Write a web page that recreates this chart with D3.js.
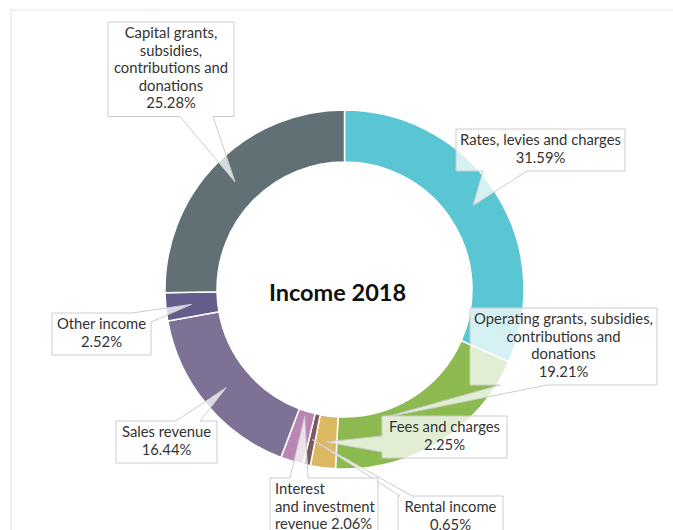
<!DOCTYPE html>
<html>
<head>
<meta charset="utf-8">
<script src="https://cdn.jsdelivr.net/npm/d3@7"></script>
<style>
  html, body { margin: 0; padding: 0; background: #fff; }
  svg { display: block; }
</style>
</head>
<body>
<svg id="chart" width="673" height="530"></svg>
<script>
// ---- data ----
const title = "Income 2018";
const categories = [
  "Rates, levies and charges",
  "Operating grants, subsidies, contributions and donations",
  "Fees and charges",
  "Rental income",
  "Interest and investment revenue",
  "Sales revenue",
  "Other income",
  "Capital grants, subsidies, contributions and donations"
];
const values = [31.59, 19.21, 2.25, 0.65, 2.06, 16.44, 2.52, 25.28];
const colors = ["#5bc6d3", "#8cba51", "#dcb862", "#7b5a5e", "#b986b5", "#7d7296", "#625d8a", "#607075"];
// label text lines (category name split as in the picture); percentage appended
const labelLines = [
  ["Rates, levies and charges"],
  ["Operating grants, subsidies,", "contributions and", "donations"],
  ["Fees and charges"],
  ["Rental income"],
  ["Interest", "and investment", "revenue"],
  ["Sales revenue"],
  ["Other income"],
  ["Capital grants,", "subsidies,", "contributions and", "donations"]
];
const pctOnSameLine = [false, false, false, false, true, false, false, false];

// ---- layout (positions / styles only) ----
const W = 673, H = 530;
const cx = 344.5, cy = 289.5, rOuter = 179.5, rInner = 127.5;
const lineH = 17.5;
// box: x, y, w ; edge for the pointer, base points b1,b2 ; optional anchor override (t within slice, r)
const boxes = [
  {x: 456, y: 129, w: 169, edge: "bottom", b1: 483, b2: 527},
  {x: 470, y: 308, w: 187, edge: "bottom", b1: 500, b2: 547, t: 0.72, r: 134},
  {x: 382, y: 416, w: 125, edge: "left",   b1: 436, b2: 452},
  {x: 398, y: 496, w: 105, edge: "top",    b1: 400, b2: 412},
  {x: 270, y: 478, w: 108, edge: "top",    b1: 290, b2: 308, t: 0.55, r: 133, align: "left"},
  {x: 116, y: 421, w: 101, edge: "top",    b1: 176, b2: 200},
  {x: 52,  y: 313, w: 99,  edge: "topright", b1: 132, b2: 322},
  {x: 108, y: 22,  w: 126, edge: "bottom", b1: 180, b2: 213}
];

const svg = d3.select("#chart");
const FONT = "Lato, 'Open Sans', sans-serif";

// frame
svg.append("rect")
  .attr("x", 11).attr("y", 10).attr("width", 720).attr("height", 600)
  .attr("fill", "none").attr("stroke", "#f1f1f1").attr("stroke-width", 2.5);

const g = svg.append("g").attr("transform", `translate(${cx},${cy})`);

const pie = d3.pie().sort(null).value(d => d).startAngle(0).endAngle(2 * Math.PI);
const arcs = pie(values);
const arc = d3.arc().innerRadius(rInner).outerRadius(rOuter);

g.selectAll("path.slice")
  .data(arcs)
  .enter().append("path")
  .attr("class", "slice")
  .attr("d", arc)
  .attr("fill", (d, i) => colors[i])
  .attr("stroke", "#fff")
  .attr("stroke-width", 1.5)
  .attr("stroke-linejoin", "round");

// title
svg.append("text")
  .attr("x", cx - 7).attr("y", cy + 11)
  .attr("text-anchor", "middle")
  .attr("font-family", FONT)
  .attr("font-weight", "bold")
  .attr("font-size", 23.5)
  .attr("fill", "#111")
  .text(title);

function calloutPath(x, y, w, h, edge, b1, b2, tx, ty) {
  const p = d3.path();
  p.moveTo(x, y);
  if (edge === "top") {
    p.lineTo(b1, y); p.lineTo(tx, ty); p.lineTo(b2, y);
    p.lineTo(x + w, y); p.lineTo(x + w, y + h); p.lineTo(x, y + h);
  } else if (edge === "bottom") {
    p.lineTo(x + w, y); p.lineTo(x + w, y + h);
    p.lineTo(b2, y + h); p.lineTo(tx, ty); p.lineTo(b1, y + h);
    p.lineTo(x, y + h);
  } else if (edge === "left") {
    p.lineTo(x + w, y); p.lineTo(x + w, y + h); p.lineTo(x, y + h);
    p.lineTo(x, b2); p.lineTo(tx, ty); p.lineTo(x, b1);
  } else if (edge === "topright") {
    p.lineTo(b1, y); p.lineTo(tx, ty); p.lineTo(x + w, b2);
    p.lineTo(x + w, y + h); p.lineTo(x, y + h);
  }
  p.closePath();
  return p.toString();
}

const fmt = d3.format(".2f");

arcs.forEach((d, i) => {
  const b = boxes[i];
  const lines = labelLines[i].slice();
  const pct = fmt(values[i]) + "%";
  if (pctOnSameLine[i]) lines[lines.length - 1] += " " + pct; else lines.push(pct);
  const h = lines.length * lineH + 7;
  let tx, ty;
  if (b.t !== undefined) {
    const a = d.startAngle + b.t * (d.endAngle - d.startAngle);
    tx = cx + b.r * Math.sin(a); ty = cy - b.r * Math.cos(a);
  } else {
    const c = arc.centroid(d);
    tx = cx + c[0]; ty = cy + c[1];
  }
  const lg = svg.append("g");
  lg.append("path")
    .attr("d", calloutPath(b.x, b.y, b.w, h, b.edge, b.b1, b.b2, tx, ty))
    .attr("fill", "rgba(255,255,255,0.75)")
    .attr("stroke", "#cccccc")
    .attr("stroke-width", 1);
  const left = b.align === "left";
  const t = lg.append("text")
    .attr("font-family", FONT)
    .attr("font-size", 14.8)
    .attr("fill", "#333")
    .attr("text-anchor", left ? "start" : "middle");
  lines.forEach((ln, k) => {
    t.append("tspan")
      .attr("x", left ? b.x + 5 : b.x + b.w / 2)
      .attr("y", b.y + 16 + k * lineH)
      .text(ln);
  });
});
</script>
</body>
</html>
